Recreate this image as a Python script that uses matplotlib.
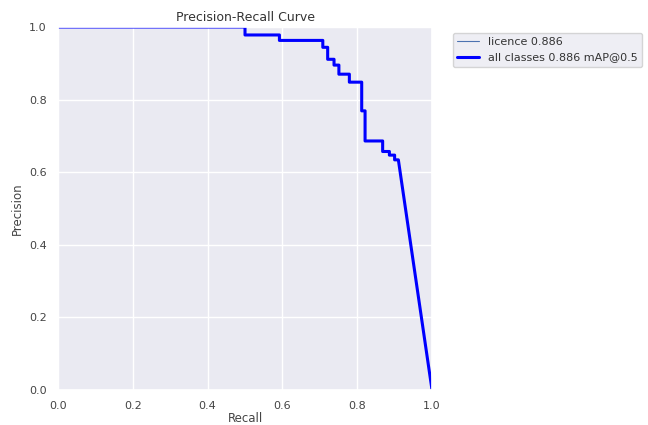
import matplotlib
matplotlib.use("Agg")
import matplotlib.pyplot as plt
import seaborn as sns
import numpy as np

sns.set_theme(style="darkgrid")
plt.rcParams['font.family'] = ['DejaVu Sans']

# step breakpoints of the PR curve (recall where precision level starts)
recall_breaks = [0.0, 0.50, 0.592, 0.708, 0.721, 0.738, 0.751, 0.779, 0.812, 0.821, 0.868, 0.886, 0.900]
precision_levels = [1.0, 0.978, 0.963, 0.944, 0.911, 0.895, 0.870, 0.848, 0.769, 0.686, 0.657, 0.647, 0.634]
last_recall = 0.910
end_recall = 1.0
end_precision = 0.0
class_name = "licence"
class_ap = 0.886
map50 = 0.886

# build vertex list
rx, py = [recall_breaks[0]], [precision_levels[0]]
for i in range(1, len(recall_breaks)):
    rx += [recall_breaks[i], recall_breaks[i]]
    py += [precision_levels[i - 1], precision_levels[i]]
rx += [last_recall, end_recall]
py += [precision_levels[-1], end_precision]
rx = np.array(rx); py = np.array(py)

fig = plt.figure(figsize=(6.48, 4.25), dpi=100)
ax = fig.add_axes([0.0895, 0.0824, 0.5772, 0.8541])
ax.plot(rx, py, linewidth=0.8, color='#4C72B0', label=f"{class_name} {class_ap:.3f}")
ax.plot(rx, py, linewidth=2.2, color='blue', label=f"all classes {map50:.3f} mAP@0.5")
ax.set_xlim(0, 1)
ax.set_ylim(0, 1)
ax.set_xlabel("Recall", fontsize=8.5, labelpad=1, color='#444444')
ax.set_ylabel("Precision", fontsize=8.5, color='#444444')
ax.set_title("Precision-Recall Curve", fontsize=9, pad=4, color='#333333')
ax.tick_params(labelsize=8, pad=2, labelcolor='#444444')
leg = ax.legend(bbox_to_anchor=(1.04, 1), loc="upper left", fontsize=8)
for t in leg.get_texts():
    t.set_color('#333333')
fig.savefig("out.png", dpi=100)
